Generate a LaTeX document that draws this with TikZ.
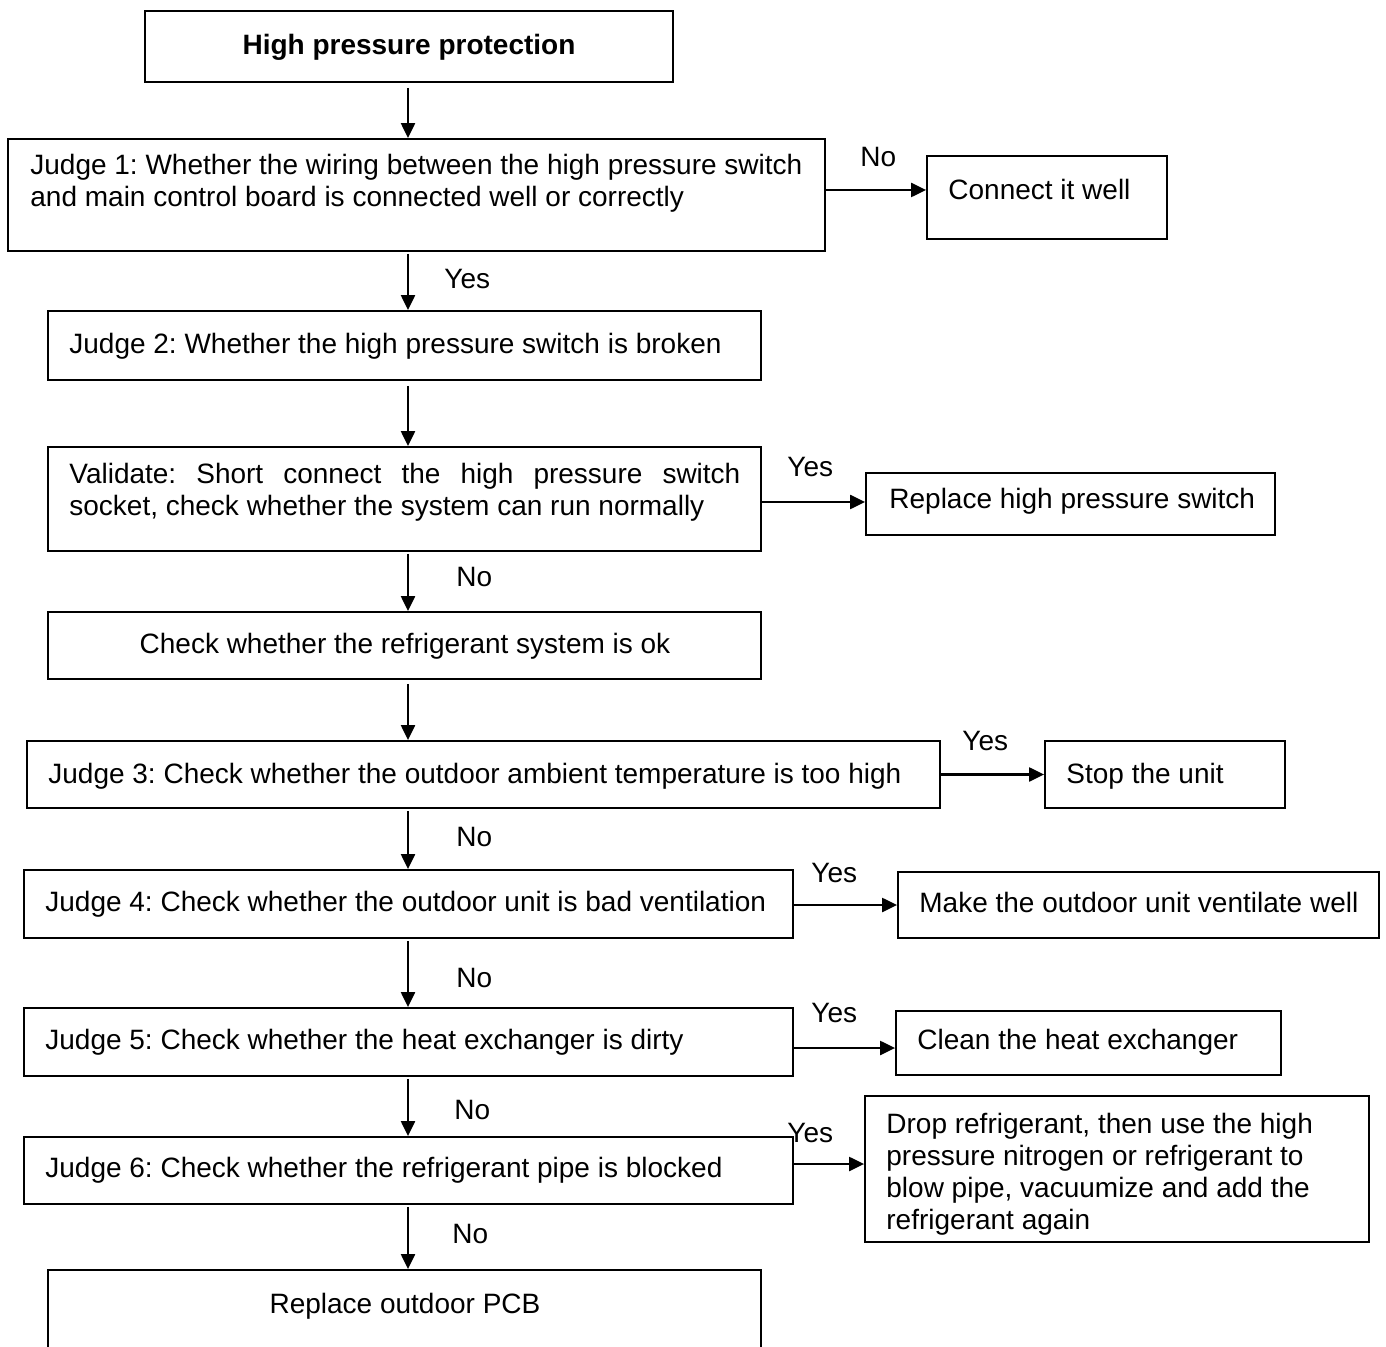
\documentclass[tikz,border=0pt]{standalone}
\usepackage{fontspec}
\setmainfont{Liberation Sans}
\frenchspacing
\usetikzlibrary{arrows.meta,positioning,calc}

\begin{document}
\begin{tikzpicture}[x=0.5pt, y=-0.5pt,
  every node/.style={font=\fontsize{14}{16}\selectfont},
  box/.style={draw, line width=0.9pt, inner sep=0pt},
  txt/.style={anchor=base west, inner sep=0pt, align=left},
  lbl/.style={anchor=base west, inner sep=0pt},
  arr/.style={-{Triangle[length=7.5pt,width=7pt]}, line width=1.1pt}]
  \useasboundingbox (0,0) rectangle (1386,1347);

  % boxes
  \node[box, minimum width=264pt, minimum height=35.5pt] (title) at (409,46.5) {};
  \node[box, minimum width=408.5pt, minimum height=56pt] (j1) at (416.5,195) {};
  \node[box, minimum width=120pt, minimum height=41.5pt] (conn) at (1047,197.5) {};
  \node[box, minimum width=356.5pt, minimum height=34.5pt] (j2) at (404.5,345.5) {};
  \node[box, minimum width=356.5pt, minimum height=52pt] (val) at (404.5,499) {};
  \node[box, minimum width=204.5pt, minimum height=31pt] (rep) at (1070.5,504) {};
  \node[box, minimum width=356.5pt, minimum height=33.5pt] (chk) at (404.5,645.5) {};
  \node[box, minimum width=456.5pt, minimum height=33.5pt] (j3) at (483.5,774.5) {};
  \node[box, minimum width=120pt, minimum height=33.5pt] (stop) at (1165,774.5) {};
  \node[box, minimum width=384.5pt, minimum height=34pt] (j4) at (408.5,904) {};
  \node[box, minimum width=240.5pt, minimum height=33pt] (vent) at (1138.5,905) {};
  \node[box, minimum width=384.5pt, minimum height=34pt] (j5) at (408.5,1042) {};
  \node[box, minimum width=192.5pt, minimum height=32pt] (clean) at (1088.5,1043) {};
  \node[box, minimum width=384.5pt, minimum height=33.5pt] (j6) at (408.5,1170.5) {};
  \node[box, minimum width=252pt, minimum height=73pt] (drop) at (1117,1169) {};
  \node[box, minimum width=356.5pt, minimum height=65pt] (pcb) at (404.5,1335) {};

  % texts (base = last line)
  \node[anchor=base, inner sep=0pt, font=\fontsize{14}{16}\selectfont\bfseries] (titletxt) at (409,55) {High pressure protection};
  \node[txt] (j1txt) at (30,207) {Judge 1: Whether the wiring between the high pressure switch\\and main control board is connected well or correctly};
  \node[txt] (conntxt) at (948,200) {Connect it well};
  \node[txt] (j2txt) at (69,354) {Judge 2: Whether the high pressure switch is broken};
  \node[txt, text width=335.5pt, align=justify] (valtxt) at (69,484) {Validate: Short connect the high pressure switch\linebreak socket, check whether the system can run normally};
  \node[txt] (reptxt) at (889,509) {Replace high pressure switch};
  \node[anchor=base, inner sep=0pt] (chktxt) at (405,653) {Check whether the refrigerant system is ok};
  \node[txt] (j3txt) at (48,783) {Judge 3: Check whether the outdoor ambient temperature is too high};
  \node[txt] (stoptxt) at (1066,783) {Stop the unit};
  \node[txt] (j4txt) at (45,911) {Judge 4: Check whether the outdoor unit is bad ventilation};
  \node[txt] (venttxt) at (919,912) {Make the outdoor unit ventilate well};
  \node[txt] (j5txt) at (45,1049) {Judge 5: Check whether the heat exchanger is dirty};
  \node[txt] (cleantxt) at (917,1049) {Clean the heat exchanger};
  \node[txt] (j6txt) at (45,1177) {Judge 6: Check whether the refrigerant pipe is blocked};
  \node[txt] (droptxt) at (886,1229) {Drop refrigerant, then use the high\\pressure nitrogen or refrigerant to\\blow pipe, vacuumize and add the\\refrigerant again};
  \node[anchor=base, inner sep=0pt] (pcbtxt) at (405,1313) {Replace outdoor PCB};

  % main line
  \coordinate (ax) at (408,0);
  \draw[arr, shorten <=2.5pt] (title.south -| ax) -- (j1.north -| ax);
  \draw[arr, shorten <=1pt] (j1.south -| ax) -- (j2.north -| ax);
  \draw[arr, shorten <=2.5pt] (j2.south -| ax) -- (val.north -| ax);
  \draw[arr, shorten <=1pt] (val.south -| ax) -- (chk.north -| ax);
  \draw[arr, shorten <=2pt] (chk.south -| ax) -- (j3.north -| ax);
  \draw[arr, shorten <=1pt] (j3.south -| ax) -- (j4.north -| ax);
  \draw[arr, shorten <=1pt] (j4.south -| ax) -- (j5.north -| ax);
  \draw[arr, shorten <=1pt] (j5.south -| ax) -- (j6.north -| ax);
  \draw[arr, shorten <=1pt] (j6.south -| ax) -- (pcb.north -| ax);

  % side branches
  \draw[arr] ([yshift=2.5pt]j1.east) -- ([yshift=3.75pt]conn.west);
  \draw[arr] ([yshift=-1.5pt]val.east) -- ([yshift=1pt]rep.west);
  \draw[arr] (j3.east) -- (stop.west);
  \draw[arr] ([yshift=-0.5pt]j4.east) -- (vent.west);
  \draw[arr] ([yshift=-3pt]j5.east) -- ([yshift=-2.5pt]clean.west);
  \draw[arr] ([yshift=3.25pt]j6.east) -- ([yshift=2.5pt]drop.west);

  % labels
  \node[lbl] (y1) at (444,289) {Yes};
  \node[lbl] (n2) at (456,587) {No};
  \node[lbl] (n3) at (456,846) {No};
  \node[lbl] (n4) at (456,987) {No};
  \node[lbl] (n5) at (454,1119) {No};
  \node[lbl] (n6) at (452,1243) {No};
  \node[lbl] (n1) at (860,167) {No};
  \node[lbl] (y2) at (787,477) {Yes};
  \node[lbl] (y3) at (962,750) {Yes};
  \node[lbl] (y4) at (811,882) {Yes};
  \node[lbl] (y5) at (811,1022) {Yes};
  \node[lbl] (y6) at (787,1142) {Yes};
\end{tikzpicture}
\end{document}
